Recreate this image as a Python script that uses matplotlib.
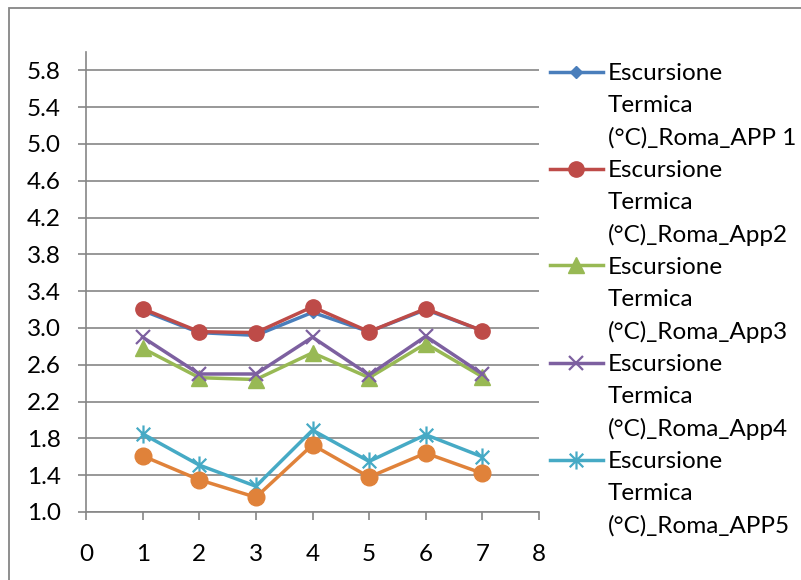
import matplotlib
matplotlib.use('Agg')
import matplotlib.pyplot as plt
from matplotlib.lines import Line2D
from matplotlib.patches import Rectangle
from matplotlib.path import Path
import numpy as np

plt.rcParams['font.family'] = ['Lato', 'DejaVu Sans']

# dati
giorni = [1, 2, 3, 4, 5, 6, 7]
app1 = [3.19, 2.95, 2.92, 3.17, 2.96, 3.20, 2.97]
app2 = [3.21, 2.96, 2.95, 3.23, 2.96, 3.21, 2.97]
app3 = [2.78, 2.46, 2.44, 2.73, 2.46, 2.83, 2.47]
app4 = [2.90, 2.50, 2.50, 2.90, 2.49, 2.91, 2.50]
app5 = [1.85, 1.51, 1.28, 1.89, 1.55, 1.84, 1.60]
app6 = [1.61, 1.35, 1.16, 1.73, 1.38, 1.64, 1.42]  # serie senza voce in legenda

etichette = ['Escursione\nTermica\n(°C)_Roma_APP 1',
             'Escursione\nTermica\n(°C)_Roma_App2',
             'Escursione\nTermica\n(°C)_Roma_App3',
             'Escursione\nTermica\n(°C)_Roma_App4',
             'Escursione\nTermica\n(°C)_Roma_APP5']

y_ticks = [1.0, 1.4, 1.8, 2.2, 2.6, 3.0, 3.4, 3.8, 4.2, 4.6, 5.0, 5.4, 5.8]
x_ticks = [0, 1, 2, 3, 4, 5, 6, 7, 8]

# marker asterisco stile Excel
asterisco = Path([(0, -1), (0, 1), (-0.75, -0.75), (0.75, 0.75), (-0.75, 0.75), (0.75, -0.75)],
                 [Path.MOVETO, Path.LINETO, Path.MOVETO, Path.LINETO, Path.MOVETO, Path.LINETO])

colori = ['#4A7EBB', '#BE4B48', '#98B954', '#7D60A0', '#46AAC5', '#E0823A']
marker = [dict(marker='D', ms=6.5),
          dict(marker='o', ms=11),
          dict(marker='^', ms=11),
          dict(marker='x', ms=10, mew=1.6),
          dict(marker=asterisco, ms=13, mew=1.6),
          dict(marker='o', ms=12)]

fig = plt.figure(figsize=(8.01, 5.80), dpi=100)
ax = fig.add_axes([86/801, 1-512/580, (539-86)/801, (512-52)/580])

serie = [app1, app2, app3, app4, app5, app6]
for s, c, m in zip(serie, colori, marker):
    ax.plot(giorni, s, lw=2.5, color=c, clip_on=False, **m)

ax.set_xlim(0, 8)
ax.set_ylim(1.0, 6.0)
ax.set_yticks(y_ticks)
ax.set_yticklabels(['%.1f' % v for v in y_ticks])
ax.set_xticks(x_ticks)
ax.yaxis.grid(True, color='#868686', lw=1.2)
ax.set_axisbelow(True)
for lato in ['top', 'right']:
    ax.spines[lato].set_visible(False)
for lato in ['left', 'bottom']:
    ax.spines[lato].set_color('#868686')
    ax.spines[lato].set_linewidth(1.2)
ax.tick_params(axis='both', direction='out', length=6, width=1.2, color='#868686',
               labelsize=17.5, labelcolor='black')
ax.tick_params(axis='y', pad=12)
ax.tick_params(axis='x', pad=17)

# legenda disegnata a mano (testo su tre righe, simbolo sulla prima)
for i, (lab, c, m) in enumerate(zip(etichette, colori[:5], marker[:5])):
    y0 = 1 - (71.5 + 97 * i) / 580
    fig.add_artist(Line2D([550/801, 603/801], [y0, y0], transform=fig.transFigure,
                          lw=2.5, color=c))
    fig.add_artist(Line2D([576/801], [y0], transform=fig.transFigure, lw=0, color=c, **m))
    for j, riga in enumerate(lab.split('\n')):
        fig.text(608/801, y0 - j * 32.3 / 580, riga, fontsize=17.5,
                 ha='left', va='center_baseline')

# cornice esterna
fig.add_artist(Rectangle((9/801, -0.5), 2, 0.5 + 1 - 8/580, transform=fig.transFigure,
                         fill=False, ec='#868686', lw=1.3))

plt.savefig('out.png', dpi=100)
